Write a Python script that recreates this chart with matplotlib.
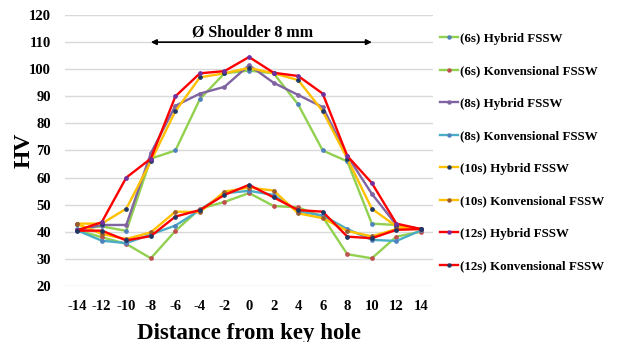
import matplotlib
matplotlib.use("Agg")
import matplotlib.pyplot as plt
from matplotlib.lines import Line2D

distance = [-14, -12, -10, -8, -6, -4, -2, 0, 2, 4, 6, 8, 10, 12, 14]
xtick_labels = ["-14", "-12", "-10", "-8", "-6", "-4", "-2", "0", "2", "4", "6", "8", "10", "12", "14"]

h6 = [41, 42, 40.3, 67, 70, 89, 98.5, 99.5, 98.5, 87, 70, 66, 43, 42.5, 41]
k6 = [40.5, 38, 35.5, 30.2, 40.3, 48.5, 51, 54.3, 49.5, 49, 45.5, 31.7, 30.2, 38.2, 40]
h8 = [40.5, 42.5, 42.5, 69, 86.5, 91, 93.5, 101.5, 95, 90.5, 86, 68, 54, 42.5, 41]
k8 = [40.5, 36.7, 35.8, 39, 42.3, 48, 54.2, 55.1, 53.6, 47.5, 46, 41, 37, 36.6, 40.5]
h10 = [43, 43, 48.5, 66, 84.5, 97, 98.5, 100.5, 98.5, 96, 84.5, 67, 48.5, 42, 41]
k10 = [42.9, 39.2, 37.3, 39.8, 47.4, 47.3, 54.8, 56.3, 55.2, 46.8, 45, 40.3, 38.3, 41, 41]
h12 = [40.5, 43.5, 60, 67, 90, 98.5, 99.3, 104.5, 98.7, 97.5, 91, 68, 58, 43, 41]
k12 = [40.4, 40.4, 36.8, 38.4, 45.6, 48, 53.6, 57.3, 52.7, 48, 47.4, 38.2, 37.6, 40.7, 41]

labels = ["(6s) Hybrid FSSW", "(6s) Konvensional FSSW",
          "(8s) Hybrid FSSW", "(8s) Konvensional FSSW",
          "(10s) Hybrid FSSW", "(10s) Konvensional FSSW",
          "(12s) Hybrid FSSW", "(12s) Konvensional FSSW"]
series = [h6, k6, h8, k8, h10, k10, h12, k12]
line_colors = ["#92D050", "#92D050", "#8064A2", "#4BACC6",
               "#FFC000", "#FFC000", "#FF0000", "#FF0000"]
marker_colors = ["#4F81BD", "#C0504D", "#8064A2", "#4F81BD",
                 "#1F3864", "#9C5B2E", "#7030A0", "#1F3864"]

plt.rcParams['font.family'] = ['Liberation Serif', 'DejaVu Serif']

fig = plt.figure(figsize=(6.18, 3.42), dpi=100)
ax = fig.add_axes([0.105, 0.164, 0.596, 0.792])

for vals, lab, lc, mc in zip(series, labels, line_colors, marker_colors):
    ax.plot(distance, vals, color=lc, lw=1.7, marker='o', markersize=2.4,
            markerfacecolor=mc, markeredgecolor=mc, label=lab, zorder=3)

ax.set_xlim(-15, 15)
ax.set_ylim(20, 120)
ax.set_xticks(distance)
ax.set_xticklabels(xtick_labels)
ax.set_yticks(range(20, 121, 10))
ax.yaxis.grid(True, color='#D9D9D9', lw=1.0)
ax.set_axisbelow(True)
for s in ax.spines.values():
    s.set_visible(False)
ax.tick_params(length=0, labelsize=10.5)
for t in ax.get_xticklabels() + ax.get_yticklabels():
    t.set_fontweight('bold')
ax.tick_params(axis='x', pad=10)
ax.tick_params(axis='y', pad=10)

ax.set_xlabel("Distance from key hole", fontsize=16.5, fontweight='bold', labelpad=7)
ax.set_ylabel("HV", fontsize=17, fontweight='bold', va='center')
ax.yaxis.set_label_coords(-0.11, 0.50)

ax.annotate("", xy=(-8, 110), xytext=(10, 110),
            arrowprops=dict(arrowstyle='<|-|>', color='black', lw=1.2,
                            mutation_scale=8, shrinkA=0, shrinkB=0))
ax.text(0.3, 113.6, "Ø Shoulder 8 mm", fontsize=11.5, fontweight='bold',
        ha='center', va='center')

handles = [Line2D([0], [0], color=lc, lw=1.7, marker='o', markersize=2.2,
                  markerfacecolor=mc, markeredgecolor=mc)
           for lc, mc in zip(line_colors, marker_colors)]
leg = fig.legend(handles, labels, loc='upper left', bbox_to_anchor=(0.712, 0.905),
                 frameon=False, prop={'family': 'Liberation Serif', 'weight': 'bold', 'size': 9.4},
                 handlelength=1.4, handletextpad=0.15, labelspacing=1.56,
                 borderaxespad=0, borderpad=0)

fig.savefig("out.png", dpi=100)
